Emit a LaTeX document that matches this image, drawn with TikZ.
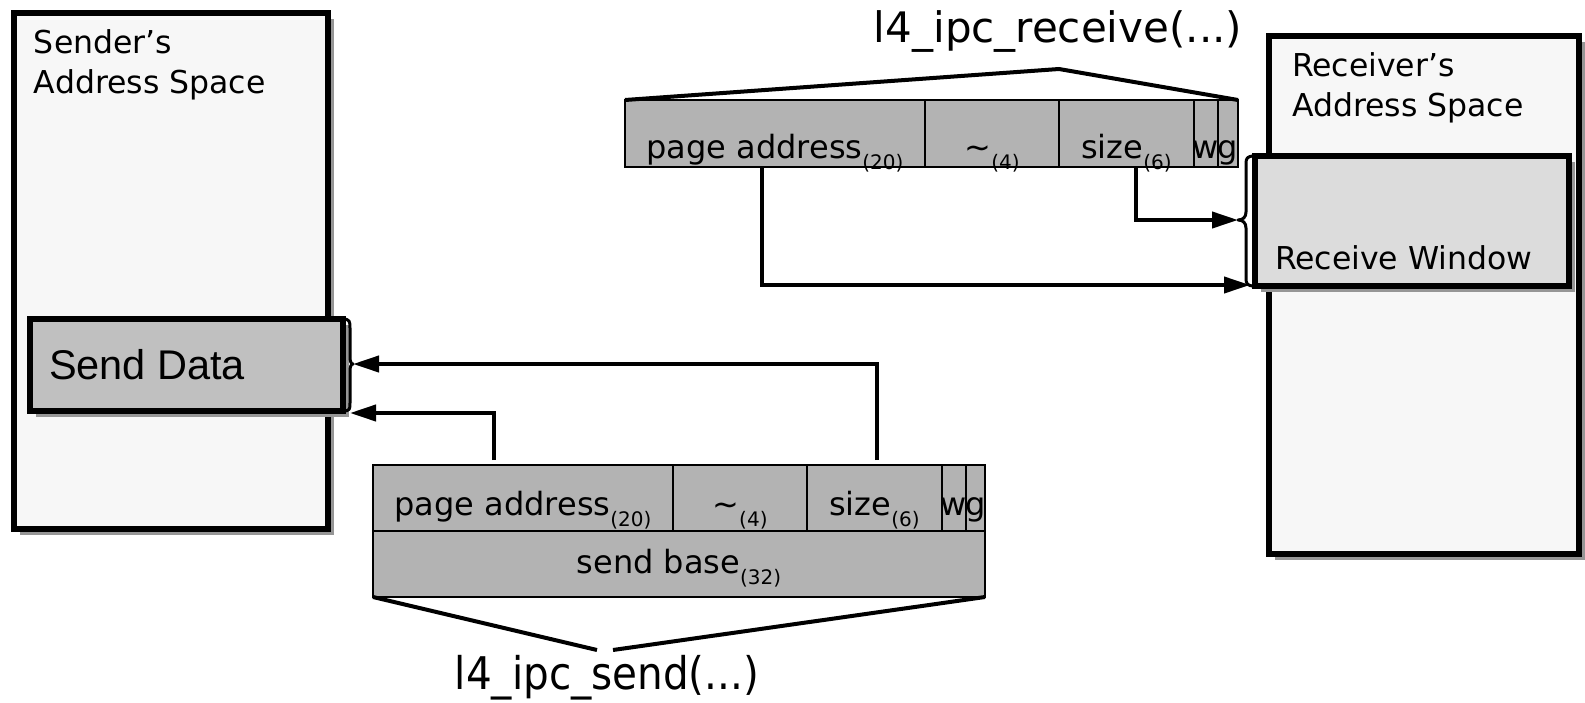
\documentclass[tikz,border=0pt]{standalone}
\usepackage{fontspec}
\setmainfont{DejaVu Sans}
\newfontfamily\arialfont{Liberation Sans}
\usetikzlibrary{arrows.meta,shadows}

\definecolor{spacefill}{RGB}{247,247,247}
\definecolor{datafill}{RGB}{192,192,192}
\definecolor{winfill}{RGB}{220,220,220}
\definecolor{fieldfill}{RGB}{179,179,179}
\definecolor{shadowgray}{RGB}{150,150,150}

\newcommand\labfont{\fontsize{31.5}{40}\selectfont}
\newcommand\fieldfont{\fontsize{32}{36}\selectfont}
\newcommand\callfont{\fontsize{42}{48}\selectfont}
\newcommand\subs[1]{\raisebox{-11pt}{\fontsize{20}{22}\selectfont #1}}

\tikzset{
  spacebox/.style={draw, line width=5.5pt, fill=spacefill, inner sep=0pt, outer sep=0pt,
    drop shadow={shadow xshift=5.5pt, shadow yshift=-5.5pt, fill=shadowgray, opacity=1}},
  databox/.style={spacebox, fill=datafill},
  winbox/.style={spacebox, fill=winfill,
    drop shadow={shadow xshift=6pt, shadow yshift=-6pt, fill=shadowgray, opacity=1}},
  cell/.style={draw, line width=2.2pt, fill=fieldfill, inner sep=0pt, outer sep=0pt, font=\fieldfont, anchor=base},
  toprow/.style={cell, text height=50pt, text depth=16pt},
  recvrow/.style={cell, text height=58pt, text depth=9pt},
  conn/.style={line width=4pt, -{Triangle[length=26pt,width=16pt]}},
  hat/.style={line width=4pt},
  bracestroke/.style={line width=3pt, line join=round},
  txt/.style={inner sep=0pt, outer sep=0pt, anchor=base west}
}

\begin{document}
\begin{tikzpicture}[x=1pt,y=-1pt]
\useasboundingbox (0,0) rectangle (1585,702);
\fill[white] (0,0) rectangle (1585,702);

% address spaces
\node[spacebox, minimum width=314, minimum height=516] (sender) at (171,271) {};
\node[spacebox, minimum width=310, minimum height=518] (recvr) at (1424,295) {};

% two-line labels: the base anchor sits on the last line
\node[txt, align=left, font=\labfont] (sendername) at (34,93) {Sender’s\\Address Space};
\node[txt, align=left, font=\labfont] (recvrname) at (1292,116) {Receiver’s\\Address Space};

% buffers inside the address spaces
\node[databox, minimum width=313, minimum height=92] (sdata) at (186.5,365) {};
\node[txt, font=\arialfont\fontsize{41.5}{48}\selectfont] (sdatalbl) at (49,379) {Send Data};

\node[winbox, minimum width=314, minimum height=130] (rwin) at (1412,221) {};
\node[txt, font=\labfont] (rwinlbl) at (1275,269) {Receive Window};

% braces marking the buffer extents
\draw[bracestroke] (sdata.north east) .. controls (350,319) and (350,322) .. (350,328)
  -- (350,357) .. controls (350,361) and (351,364) .. (353,364)
  .. controls (351,364) and (350,367) .. (350,371)
  -- (350,403) .. controls (350,409) and (350,411) .. (sdata.south east);
\draw[bracestroke] (rwin.north west) .. controls (1247,156) and (1246,158) .. (1246,164)
  -- (1246,212) .. controls (1246,217) and (1243,220) .. (1238,220)
  .. controls (1243,220) and (1246,223) .. (1246,228)
  -- (1246,278) .. controls (1246,284) and (1247,286) .. (rwin.south west);
\coordinate (sdTip) at (353,364);
\coordinate (sdLow) at (350,413);
\coordinate (rwTip) at (1238,220);
\coordinate (rwLow) at (1250,285);

% send descriptor
\node[toprow, minimum width=300] (sPage) at (523,515) {page address\subs{(20)}};
\node[toprow, minimum width=134] (sRes) at (740,515) {\textasciitilde\subs{(4)}};
\node[toprow, minimum width=135] (sSize) at (874.5,515) {size\subs{(6)}};
\node[toprow, minimum width=24] (sW) at (954,515) {\makebox[0pt]{w}};
\node[toprow, minimum width=19] (sG) at (975.5,515) {\makebox[0pt]{g}};
\node[cell, minimum width=612, text height=42pt, text depth=24pt] (sBase) at (679,573) {send base\subs{(32)}};

% receive descriptor
\node[recvrow, minimum width=300] (rPage) at (775,158) {page address\subs{(20)}};
\node[recvrow, minimum width=134] (rRes) at (992,158) {\textasciitilde\subs{(4)}};
\node[recvrow, minimum width=135] (rSize) at (1126.5,158) {size\subs{(6)}};
\node[recvrow, minimum width=24] (rW) at (1206,158) {\makebox[0pt]{w}};
\node[recvrow, minimum width=20] (rG) at (1228,158) {\makebox[0pt]{g}};

% system call labels
\node[inner sep=0pt, anchor=base, font=\fontsize{45}{52}\selectfont] (sendcall) at (607,689) {\scalebox{0.9}[1]{l4\_ipc\_send(...)}};
\node[inner sep=0pt, anchor=base, font=\callfont] (recvcall) at (1058,42) {l4\_ipc\_receive(...)};
\coordinate (sendHatL) at (597,650);
\coordinate (sendHatR) at (613,650);
\coordinate (recvApex) at (1059,69);
\draw[hat] (sBase.south west) -- (sendHatL);
\draw[hat] (sBase.south east) -- (sendHatR);
\draw[hat] (rPage.north west) -- (recvApex) -- (rG.north east);

% field connectors
\draw[conn] ([xshift=2.5pt,yshift=5pt]sSize.north) |- (sdTip);
\draw[conn] ([xshift=-29pt,yshift=5pt]sPage.north) |- (sdLow);
\draw[conn] ([xshift=9.5pt]rSize.south) |- (rwTip);
\draw[conn] ([xshift=-13pt]rPage.south) |- (rwLow);
\end{tikzpicture}
\end{document}
